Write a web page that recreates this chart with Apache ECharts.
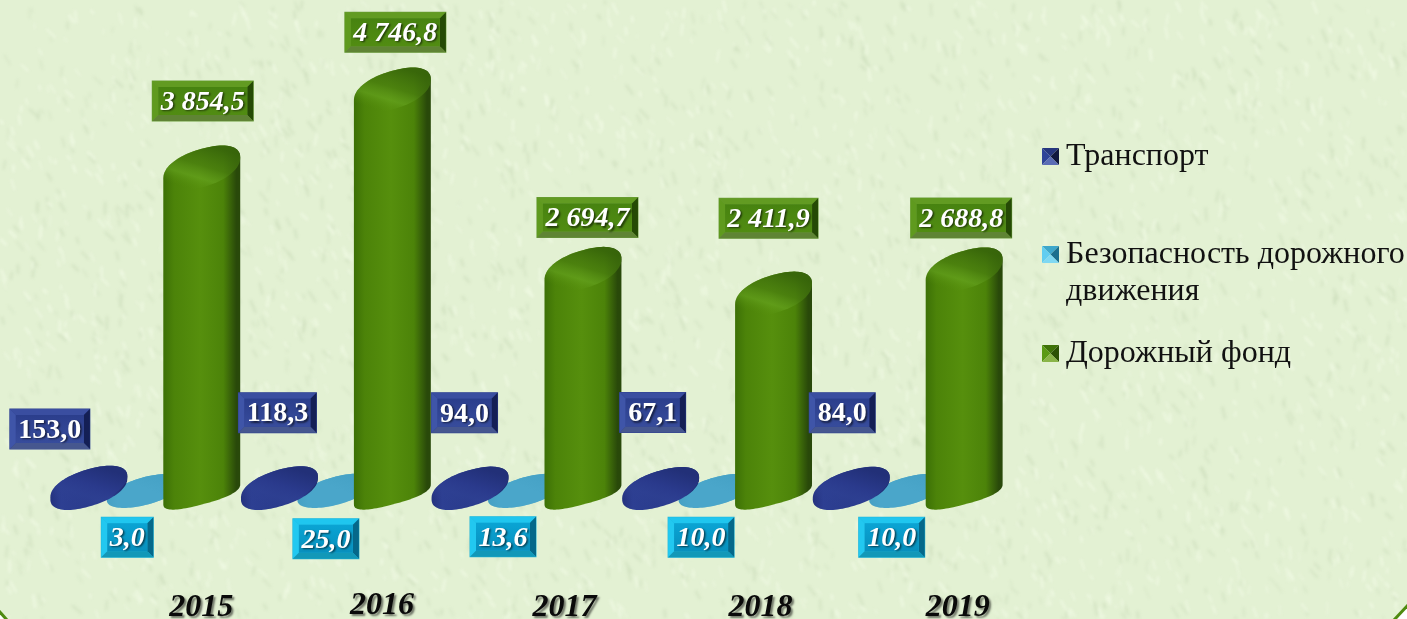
<!DOCTYPE html>
<html><head><meta charset="utf-8">
<style>html,body{margin:0;padding:0;background:#e3f1d3}#c{width:1407px;height:619px}</style>
<script src="https://cdn.jsdelivr.net/npm/echarts@6/dist/echarts.min.js"></script>
</head><body><div id="c"></div>
<script>
var years = ['2015','2016','2017','2018','2019'];
var transport = [153.0,118.3,94.0,67.1,84.0];
var safety = [3.0,25.0,13.6,10.0,10.0];
var roadFund = [3854.5,4746.8,2694.7,2411.9,2688.8];
var seriesNames = ['Транспорт','Безопасность дорожного движения','Дорожный фонд'];

// Hand-placed label layout of the original (offsets from each mark, px)
var labelDxBlue = [-39,-2,-5.5,-8,-9], labelDyBlue = [-40.6,-60,-62,-64.6,-63];
var labelDxCyan = [-18,-10,-23.5,-16,-16], labelDyCyan = [54.5,58,55,55,55];
var labelDxGreen = [1,3,4.5,-5,-3], labelDyGreen = [-45,-36,-30,-54,-30];
var yearDx = [56,46,38,43.5,50], yearDy = [2,0,2,2,2];

var FONT = '"Liberation Serif","Times New Roman",serif';
var schemes = {
  blue:{core:['#2b3e8c','#374c9c'],top:'#3a4ea0',left:'#3f55a8',right:'#141f55',bottom:'#46578f',edge:'#2e4190',
        side:['#24327e','#2d3f92','#2a3b8c','#1e2b70'],
        cap:['rgba(34,48,120,1)','rgba(42,58,140,1)','rgba(46,64,146,.7)','rgba(46,64,146,0)']},
  cyan:{core:['#0aa4d4','#0890bd'],top:'#1fc6ef',left:'#22c8f0',right:'#05688a',bottom:'#1298b8',edge:'#22b4d8',
        side:['#46a0c3','#4aa6ca','#4aa6ca','#429abd'],
        cap:['rgba(70,162,198,1)','rgba(74,166,202,1)','rgba(74,166,202,.8)','rgba(74,166,202,0)']},
  green:{core:['#478310','#518c12'],top:'#629b22',left:'#5f9a1e',right:'#254a05',bottom:'#5f8434',edge:'#6b9d3c',
        side:['#3c7006','#4c8309','#568f0d','#29490a'],
        cap:['rgba(56,102,10,.95)','rgba(72,124,15,.7)','rgba(104,166,34,.55)','rgba(86,143,13,0)']}
};

function fmt(v){
  var s = v.toFixed(1).replace('.',',');
  var p = s.split(',');
  return p[0].replace(/\B(?=(\d{3})+$)/g,' ') + ',' + p[1];
}
var mctx = document.createElement('canvas').getContext('2d');
function textW(t,font){ mctx.font = font; return mctx.measureText(t).width; }

// Sheared, slightly squared ellipse outline
function ellipsePts(cx,cy,rx,ry,sk,a0,a1,n,p){
  var o=[], e=p||1;
  for(var i=0;i<=n;i++){
    var t=a0+(a1-a0)*i/n, c=Math.cos(t), s=Math.sin(t);
    var uc=(c<0?-1:1)*Math.pow(Math.abs(c),e), us=(s<0?-1:1)*Math.pow(Math.abs(s),e);
    o.push([cx+rx*uc, cy+ry*us-sk*uc]);
  }
  return o;
}
function grad(a,b,stops){
  return {type:'linear',x:a[0],y:a[1],x2:b[0],y2:b[1],
    colorStops:stops.map(function(c){return {offset:c[0],color:c[1]};})};
}
function bevelBox(cx,cy,text,sc,italic){
  var font=(italic?'italic ':'')+'bold 28px '+FONT;
  var w=Math.round(textW(text,font)+17), h=40, b=6;
  var l=cx-w/2,r=cx+w/2,t=cy-h/2,d=cy+h/2, Z=100;
  var poly=function(pts,fill){return {type:'polygon',z2:Z,shape:{points:pts},style:{fill:fill},silent:true};};
  return [
    {type:'rect',z2:Z,shape:{x:l-.5,y:t-.5,width:w+1,height:h+1},style:{fill:sc.edge},silent:true},
    poly([[l,t],[r,t],[r-b,t+b],[l+b,t+b]],sc.top),
    poly([[l,t],[l+b,t+b],[l+b,d-b],[l,d]],sc.left),
    poly([[r,t],[r,d],[r-b,d-b],[r-b,t+b]],sc.right),
    poly([[l,d],[l+b,d-b],[r-b,d-b],[r,d]],sc.bottom),
    {type:'rect',z2:Z,shape:{x:l+b,y:t+b,width:w-2*b,height:h-2*b},style:{fill:grad([0,0],[0,1],[[0,sc.core[0]],[1,sc.core[1]]])},silent:true},
    {type:'text',z2:Z+1,silent:true,style:{text:text,x:cx,y:cy+1.5,align:'center',verticalAlign:'middle',font:font,fill:'#fff',
      textShadowColor:'rgba(0,0,0,.6)',textShadowBlur:2,textShadowOffsetX:1.5,textShadowOffsetY:1.5}}
  ];
}
function cylinder(slot,sc,cfg,dxs,dys,italic){
  return function(params,api){
    var i=api.value(0), v=api.value(1);
    var band=api.size([1,0])[0];
    var base=api.coord([i,0]), top=api.coord([i,v]);
    var cx=base[0]+slot*band, rx=band*0.2018, P=cfg.p, BP=cfg.baseP;
    var R=cfg.R, sk=cfg.sk, ry=Math.sqrt(R*R-sk*sk);
    var yb=base[1]+cfg.baseY, bry=Math.sqrt(cfg.baseR*cfg.baseR-cfg.baseSk*cfg.baseSk);
    var yt=Math.min(top[1]+R, yb-v*0.015);
    var Z=cfg.z, kids=[];
    var pts=ellipsePts(cx,yb,rx,bry,cfg.baseSk,Math.PI,0,48,BP).concat(ellipsePts(cx,yt,rx,ry,sk,0,-Math.PI,48,P));
    kids.push({type:'polygon',z2:Z,silent:true,shape:{points:pts},style:{
      fill:grad([0,0],[1,0],[[0,sc.side[0]],[.14,sc.side[1]],[.48,sc.side[2]],[.78,sc.side[1]],[.95,sc.side[3]],[1,sc.side[3]]])}});
    kids.push({type:'polygon',z2:Z+1,silent:true,shape:{points:ellipsePts(cx,yt,rx,ry,sk,0,2*Math.PI,72,P)},style:{
      fill:grad([.6,0],[.42,1],[[0,sc.cap[0]],[.45,sc.cap[1]],[.72,sc.cap[2]],[1,sc.cap[3]]])}});
    var box=bevelBox(base[0]+slot*band+dxs[i], top[1]+dys[i], fmt(v), sc, italic);
    return {type:'group',children:kids.concat(box)};
  };
}
function rows(arr){return arr.map(function(v,i){return [i,v];});}

// Page background: fine mottled paper grain (deterministic), blurred once
function makeBackground(){
  var t=document.createElement('canvas'); t.width=1407;t.height=619;
  var g=t.getContext('2d');
  var s=12345; function rnd(){ s=(s*1664525+1013904223)%4294967296; return s/4294967296; }
  g.lineCap='round';
  for(var i=0;i<4200;i++){
    var x=rnd()*1407,y=rnd()*619,len=3+rnd()*9,ang=0.7+rnd()*1.1;
    g.strokeStyle=rnd()<.55?'rgba(240,250,228,.75)':'rgba(205,222,188,.6)';
    g.lineWidth=1+rnd()*2;
    g.beginPath();g.moveTo(x,y);g.lineTo(x+Math.cos(ang)*len,y+Math.sin(ang)*len);g.stroke();
  }
  var c=document.createElement('canvas'); c.width=1407;c.height=619;
  var h=c.getContext('2d'); h.fillStyle='#e3f1d3'; h.fillRect(0,0,1407,619);
  h.filter='blur(1.5px)'; h.drawImage(t,0,0); h.filter='none';
  return c;
}
function bevelIcon(sc){
  var c=document.createElement('canvas');c.width=19;c.height=17;var g=c.getContext('2d');
  var p=function(pts,f){g.fillStyle=f;g.beginPath();pts.forEach(function(q,i){i?g.lineTo(q[0],q[1]):g.moveTo(q[0],q[1]);});g.closePath();g.fill();};
  p([[0,0],[17,0],[8.5,8.5]],sc[0]);p([[0,0],[8.5,8.5],[0,17]],sc[1]);
  p([[17,0],[17,17],[8.5,8.5]],sc[2]);p([[0,17],[8.5,8.5],[17,17]],sc[3]);
  return 'image://'+c.toDataURL();
}
var icons=[bevelIcon(['#26377f','#2f4498','#10193f','#5a6cb5']),
           bevelIcon(['#3ea7cb','#62cdf0','#1c6f8e','#7fd8f2']),
           bevelIcon(['#3f7208','#5a9a14','#2c5204','#8ab548'])];

function legendOf(idx,top,fmtr){
  var l={show:true,orient:'vertical',left:1042,top:top,padding:0,selectedMode:false,
    data:[{name:seriesNames[idx],icon:icons[idx]}],itemWidth:19,itemHeight:17,
    textStyle:{fontFamily:FONT,fontSize:32,color:'#111',lineHeight:37}};
  if(fmtr) l.formatter=fmtr;
  return l;
}

var yearRich={};
years.forEach(function(y,i){
  yearRich['y'+i]={fontFamily:FONT,fontSize:32,fontStyle:'italic',fontWeight:'bold',color:'#0a0a0a',
    padding:[yearDy[i],0,0,yearDx[i]*2],
    textShadowColor:'rgba(0,0,0,.5)',textShadowBlur:2,textShadowOffsetX:2,textShadowOffsetY:2};
});

var chart=echarts.init(document.getElementById('c'),null,{renderer:'canvas',width:1407,height:619});
chart.setOption({
  animation:false,
  backgroundColor:{image:makeBackground(),repeat:'no-repeat'},
  grid:{left:50,width:953,top:46,height:437,containLabel:false,outerBoundsMode:'none'},
  legend:[
    legendOf(0,138),
    legendOf(1,199,function(){return '\u00a0\nБезопасность дорожного\nдвижения';}),
    legendOf(2,335)
  ],
  xAxis:{type:'category',data:years,boundaryGap:true,axisLine:{show:false},axisTick:{show:false},
    axisLabel:{margin:107,interval:0,hideOverlap:false,rich:yearRich,
      formatter:function(v){return '{y'+years.indexOf(v)+'|'+v+'}';}}},
  yAxis:{type:'value',min:0,max:5000,interval:1000,show:false,splitLine:{show:false}},
  graphic:[
    {type:'polygon',silent:true,shape:{points:[[0,613],[7,619],[0,619]]},style:{fill:'#ffffff'}},
    {type:'polygon',silent:true,shape:{points:[[1396,619],[1407,607],[1407,619]]},style:{fill:'#ffffff'}},
    {type:'line',silent:true,shape:{x1:-1,y1:611,x2:7,y2:620},style:{stroke:'#4f8a10',lineWidth:3}},
    {type:'line',silent:true,shape:{x1:1394,y1:620,x2:1408,y2:605},style:{stroke:'#4f8a10',lineWidth:3}}
  ],
  series:[
    {name:seriesNames[0],type:'custom',clip:false,encode:{x:0,y:1},data:rows(transport),
     renderItem:cylinder(-0.2962,schemes.blue,{R:20.5,sk:10.5,baseY:6,baseR:20.5,baseSk:10.5,p:.92,baseP:.92,z:20},labelDxBlue,labelDyBlue,false)},
    {name:seriesNames[1],type:'custom',clip:false,encode:{x:0,y:1},data:rows(safety),
     renderItem:cylinder(0,schemes.cyan,{R:17,sk:9.5,baseY:8,baseR:17,baseSk:9.5,p:1,baseP:1,z:10},labelDxCyan,labelDyCyan,true)},
    {name:seriesNames[2],type:'custom',clip:false,encode:{x:0,y:1},data:rows(roadFund),
     renderItem:cylinder(0.2962,schemes.green,{R:22,sk:10.5,baseY:11,baseR:14.5,baseSk:10,p:.9,baseP:.78,z:30},labelDxGreen,labelDyGreen,true)}
  ]
});
</script></body></html>
